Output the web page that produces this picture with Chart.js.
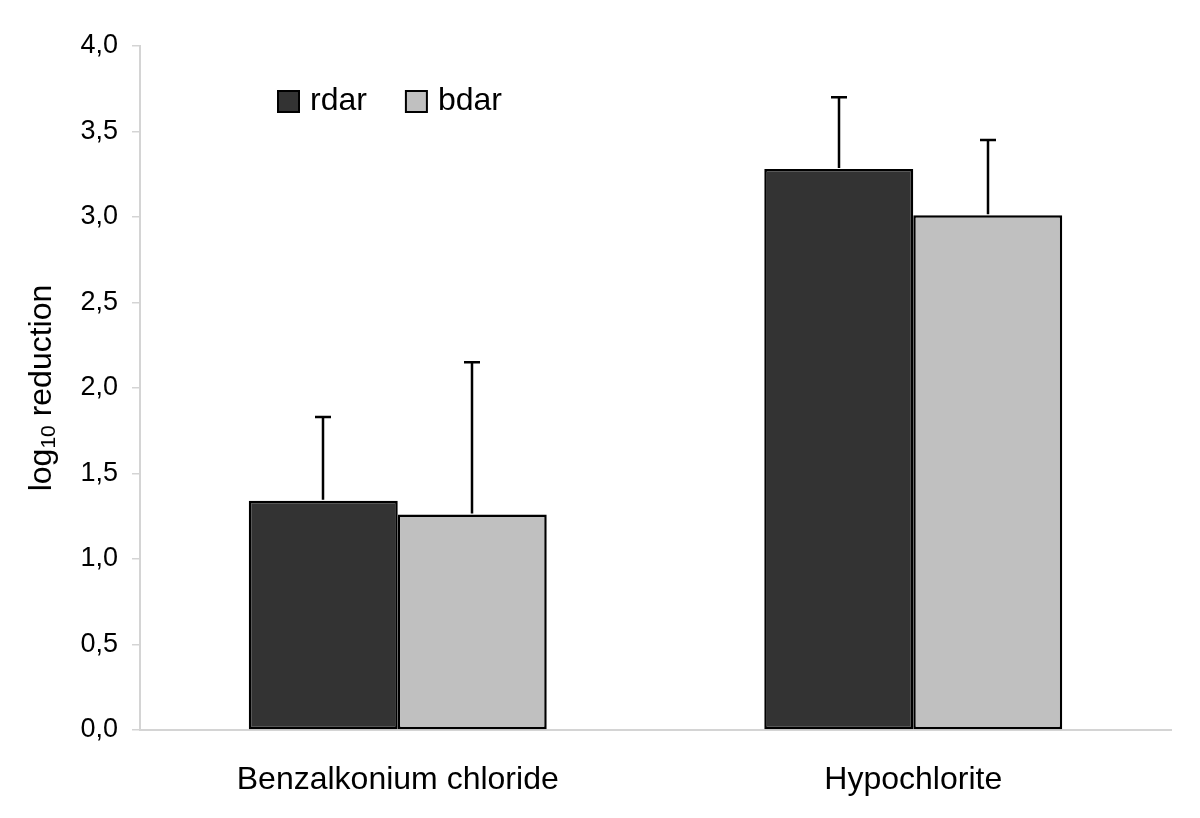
<!DOCTYPE html>
<html>
<head>
<meta charset="utf-8">
<script src="https://cdn.jsdelivr.net/npm/chart.js@4"></script>
<style>
  html, body { margin: 0; padding: 0; background: #fff; }
  #wrap { width: 1200px; height: 818px; }
</style>
</head>
<body>
<div id="wrap"><canvas id="chart" width="1200" height="818"></canvas></div>
<script>
const categories = ["Benzalkonium chloride", "Hypochlorite"];
const seriesNames = ["rdar", "bdar"];
const rdarMeans = [1.34, 3.28];
const rdarErrors = [0.49, 0.42];
const bdarMeans = [1.26, 3.01];
const bdarErrors = [0.89, 0.44];
const yTicks = [0, 0.5, 1, 1.5, 2, 2.5, 3, 3.5, 4];

const FONT = "'Liberation Sans', Arial, sans-serif";

// upper error bars + legend + axis title
const extras = {
  id: "extras",
  afterDatasetsDraw(chart) {
    const ctx = chart.ctx;
    const y = chart.scales.y;
    ctx.save();
    ctx.strokeStyle = "#000";
    ctx.lineWidth = 2.5;
    chart.data.datasets.forEach((ds, i) => {
      const meta = chart.getDatasetMeta(i);
      meta.data.forEach((bar, j) => {
        const top = y.getPixelForValue(ds.data[j] + ds.errors[j]);
        const x = Math.round(bar.x);
        ctx.beginPath();
        ctx.moveTo(x, bar.y - 1);
        ctx.lineTo(x, top);
        ctx.moveTo(x - 8, top);
        ctx.lineTo(x + 8, top);
        ctx.stroke();
      });
    });

    // legend inside plot
    const a = chart.chartArea;
    let lx = a.left + 138;
    const ly = a.top + 45;
    ctx.font = "32px " + FONT;
    ctx.textBaseline = "middle";
    ctx.textAlign = "left";
    chart.data.datasets.forEach(ds => {
      ctx.fillStyle = ds.backgroundColor;
      ctx.fillRect(lx, ly, 21, 21);
      ctx.lineWidth = 2;
      ctx.strokeStyle = "#000";
      ctx.strokeRect(lx, ly, 21, 21);
      ctx.fillStyle = "#000";
      ctx.fillText(ds.label, lx + 32, ly + 10);
      lx += 32 + ctx.measureText(ds.label).width + 39;
    });

    // y title with subscript
    ctx.translate(40, (a.top + a.bottom) / 2);
    ctx.rotate(-Math.PI / 2);
    const parts = [["log", 32, 0], ["10", 21, 4], [" reduction", 32, 0]];
    let total = 0;
    parts.forEach(p => { ctx.font = p[1] + "px " + FONT; total += ctx.measureText(p[0]).width; });
    let tx = -total / 2;
    ctx.textBaseline = "alphabetic";
    parts.forEach(p => {
      ctx.font = p[1] + "px " + FONT;
      ctx.fillText(p[0], tx, 11 + p[2]);
      tx += ctx.measureText(p[0]).width;
    });
    ctx.restore();
  }
};

new Chart(document.getElementById("chart"), {
  type: "bar",
  data: {
    labels: categories,
    datasets: [
      {
        label: seriesNames[0],
        data: rdarMeans,
        errors: rdarErrors,
        backgroundColor: "#333333",
        borderColor: "#000",
        borderWidth: 2.5,
        borderSkipped: false
      },
      {
        label: seriesNames[1],
        data: bdarMeans,
        errors: bdarErrors,
        backgroundColor: "#c0c0c0",
        borderColor: "#000",
        borderWidth: 2.5,
        borderSkipped: false
      }
    ]
  },
  options: {
    responsive: false,
    animation: false,
    layout: { padding: { top: 46, right: 29, left: 0, bottom: 0 } },
    plugins: { legend: { display: false }, tooltip: { enabled: false } },
    datasets: { bar: { barPercentage: 1, categoryPercentage: 0.578 } },
    scales: {
      x: {
        grid: { drawOnChartArea: false, drawTicks: false },
        border: { color: "#d4d4d4", width: 2 },
        ticks: { color: "#000", font: { family: FONT, size: 32 }, padding: 31 },
        afterFit: s => { s.height = 88; }
      },
      y: {
        min: 0,
        max: 4,
        afterBuildTicks: s => { s.ticks = yTicks.map(v => ({ value: v })); },
        grid: { drawOnChartArea: false, tickLength: 8, color: "#d4d4d4", lineWidth: 1.5 },
        border: { color: "#d4d4d4", width: 2 },
        ticks: {
          color: "#000",
          font: { family: FONT, size: 27 },
          padding: 14,
          callback: v => v.toFixed(1).replace(".", ",")
        },
        afterFit: s => { s.width = 140; }
      }
    }
  },
  plugins: [extras]
});
</script>
</body>
</html>
